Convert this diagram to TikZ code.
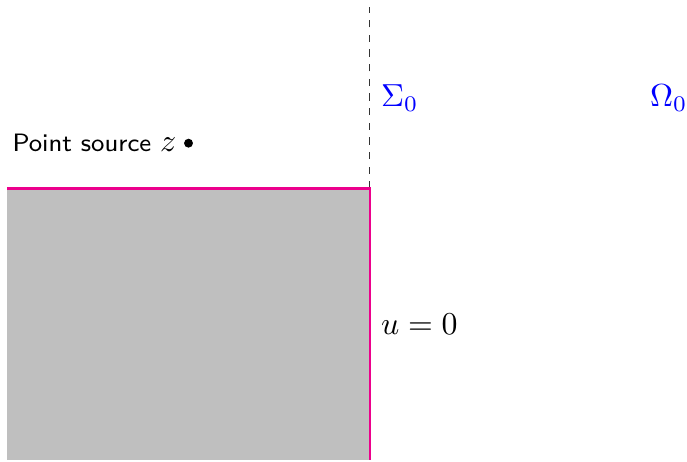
\documentclass[tikz,border=0pt]{standalone}
\usepackage{xcolor}
\usepackage{amsmath}
\usepackage{tikz}
\usetikzlibrary{positioning}

\definecolor{wallpink}{RGB}{236,0,140}

\begin{document}
\begin{tikzpicture}[
    wall/.style={wallpink, thick},
    interface/.style={thin, black!80, dash pattern=on 2.3pt off 2.3pt},
    lbl/.style={blue},
    srcdot/.style={circle, fill, inner sep=0pt, minimum size=2.8pt}
]
    \useasboundingbox (-4.08,-3.01) rectangle (3.5,2.08);
    \fill[lightgray] (-4,-3) rectangle (0,0);

    \coordinate (c) at (0,0);
    \coordinate (top) at (0,2);
    \coordinate (left) at (-4,0);
    \coordinate (bot) at (0,-3);

    \draw[interface] (c) -- (top);
    \draw[wall] (left) -- (c) -- (bot);

    \node[srcdot] (src) at (-2,0.5) {};
    \node[left=1pt of src, inner sep=1pt] (srclbl) {{\sffamily\fontsize{7.9pt}{10pt}\selectfont Point source }$z$};
    \node[lbl, right] (sigma) at (0,1) {$\Sigma_0$};
    \node[lbl] (omega) at (3.3,1) {$\Omega_0$};
    \node[right] (bc) at (0,-1.5) {$u=0$};
\end{tikzpicture}
\end{document}
